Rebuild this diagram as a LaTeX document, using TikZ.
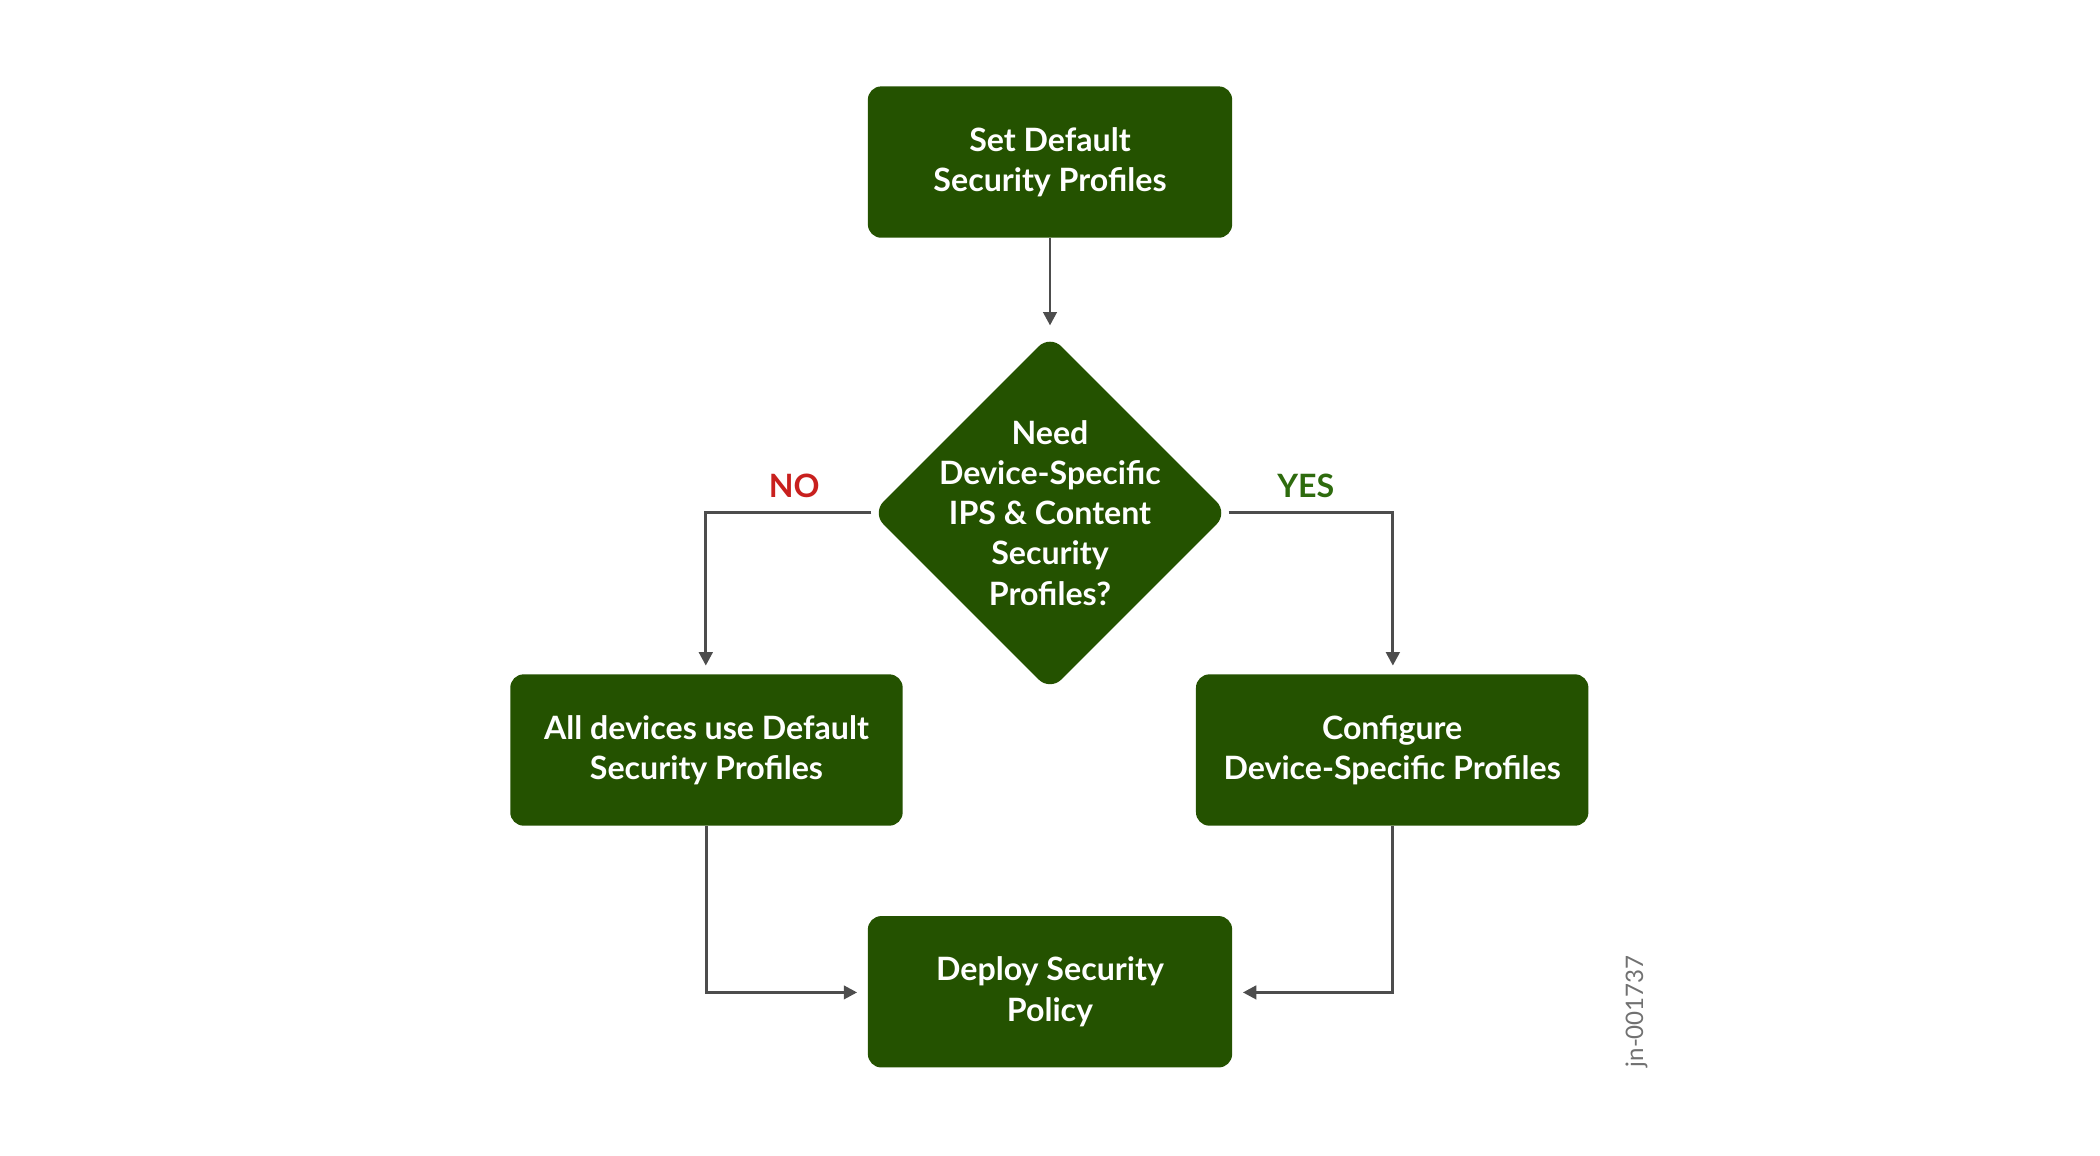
\documentclass[tikz,border=0pt]{standalone}
\usepackage{fontspec}
\setmainfont{Lato}
\usetikzlibrary{shapes.geometric,arrows.meta}
\definecolor{jg}{HTML}{245200}
\definecolor{ln}{HTML}{4D4D4D}
\definecolor{nored}{HTML}{C8201E}
\definecolor{yesg}{HTML}{2E6B0E}
\begin{document}
\begin{tikzpicture}[x=0.5pt,y=-0.5pt,
  box/.style={fill=jg,rounded corners=5pt,minimum width=136pt,minimum height=56.5pt,text=white,align=center,font=\bfseries\fontsize{12}{15}\selectfont,inner sep=0pt},
  dia/.style={diamond,fill=jg,rounded corners=6pt,minimum width=133pt,minimum height=133pt,aspect=1,text=white,align=center,font=\bfseries\fontsize{12}{15}\selectfont,inner sep=0pt},
  con/.style={draw=ln,line width=1.1pt,-{Triangle[length=5pt,width=5pt]}}]
\useasboundingbox (0,0) rectangle (1568,863);
\node[box] (top) at (784,121) {Set Default\\Security Profiles};
\node[dia] (d) at (784,383) {};
\node[text=white,align=center,font=\bfseries\fontsize{12}{15}\selectfont] (dt) at (784,383) {Need\\Device-Specific\\IPS \& Content\\Security\\Profiles?};
\node[box,minimum width=146.5pt] (l) at (527.5,560) {All devices use Default\\Security Profiles};
\node[box,minimum width=146.5pt] (r) at (1039.5,560) {Configure\\Device-Specific Profiles};
\node[box] (b) at (784,740.5) {Deploy Security\\Policy};
\coordinate (la) at (527,497);
\coordinate (ra) at (1040,497);
\coordinate (ba) at (640,741);
\coordinate (bb) at (928,741);
\coordinate (dtop) at (784,243);
\draw[con] (top.south) -- (dtop);
\draw[con] (d.west) -| (la);
\draw[con] (d.east) -| (ra);
\draw[con] (l.south) |- (ba);
\draw[con] (r.south) |- (bb);
\node[text=nored,font=\bfseries\fontsize{12}{15}\selectfont] (no) at (593,363) {NO};
\node[text=yesg,font=\bfseries\fontsize{12}{15}\selectfont] (yes) at (975,363) {YES};
\node[rotate=90,text=ln!80,font=\fontsize{9}{11}\selectfont] (id) at (1222,755) {jn-001737};
\end{tikzpicture}
\end{document}
